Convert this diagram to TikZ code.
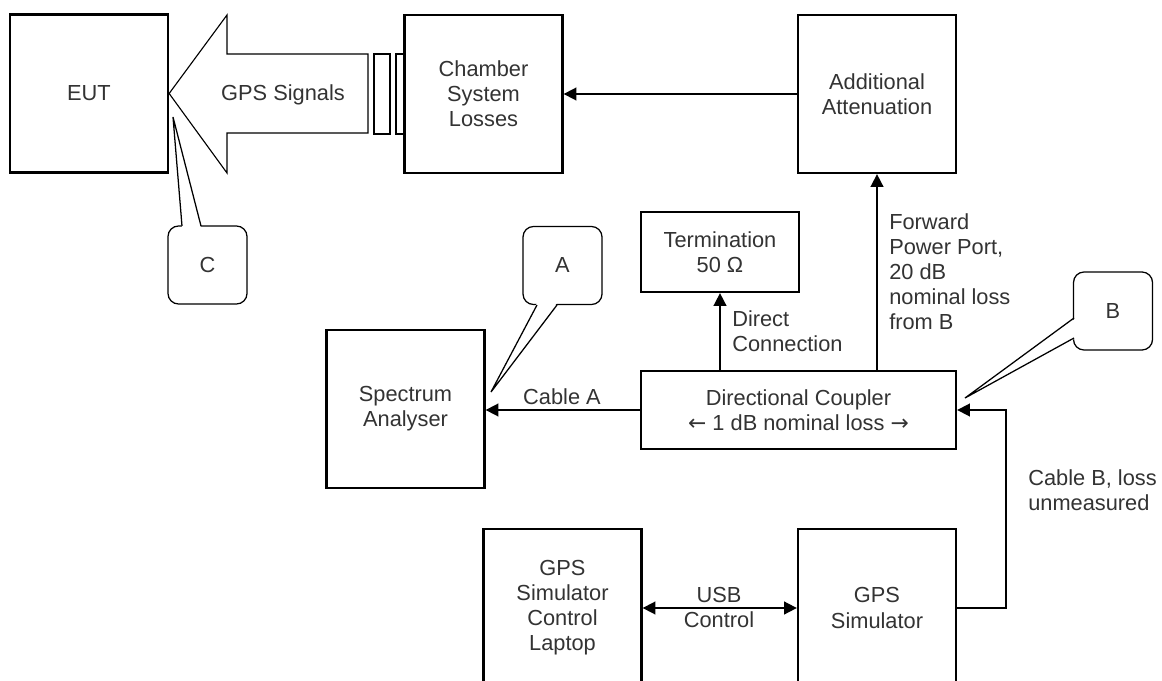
\documentclass[tikz,border=0pt]{standalone}
\usepackage{fontspec}
\setmainfont{Liberation Sans}
\newfontfamily\arrowfont{DejaVu Sans}
\usetikzlibrary{arrows.meta, positioning, calc}

\tikzset{
  block/.style={draw, line width=1.6pt, fill=white, align=center, inner sep=0pt},
  bigbox/.style={block, minimum width=3.95cm, minimum height=3.95cm},
  callout/.style={draw, line width=0.9pt, rounded corners=7.5pt, fill=white,
    minimum width=1.975cm, minimum height=1.95cm},
  arr/.style={line width=1.2pt, -{Triangle[length=9pt,width=9pt]}},
  lbl/.style={align=left, inner sep=0pt},
}

\begin{document}
\begin{tikzpicture}[x=0.025cm, y=-0.025cm, font=\fontsize{15.5}{17.8}\selectfont, text=black!80]
\clip (0,0) rectangle (1162,681);
\fill[white] (0,0) rectangle (1162,681);

% Top row
\node[bigbox] (eut) at (89,93.5) {EUT};
\node[bigbox] (chamber) at (483.5,94) {Chamber\\System\\Losses};
\node[bigbox] (atten) at (877,94) {Additional\\Attenuation};

% GPS signal arrow
\draw[line width=0.8pt, fill=white] (eut.east) -- (227,15) -- (227,54) -- (368,54)
  -- (368,133) -- (227,133) -- (227,173) -- cycle;
\node (signals) at (283,95) {GPS Signals};
\draw[line width=0.8pt] (374,54) rectangle (390,134);
\draw[line width=0.8pt] (396,54) rectangle (chamber.west |- 0,134);

\draw[arr] (atten) -- (chamber);

% Middle row
\node[block, minimum width=3.95cm, minimum height=2cm] (term) at (720,252) {Termination\\50 Ω};
\node[block, minimum width=7.875cm, minimum height=1.95cm] (coupler) at (798.5,410)
  {Directional Coupler\\{\arrowfont ←} 1 dB nominal loss {\arrowfont →}};
\node[bigbox] (spec) at (405.5,409) {Spectrum\\Analyser};

\draw[arr] (coupler.west) -- (coupler.west -| spec.east);
\node (cablea) at (562,397) {Cable A};
\draw[arr] (term.south |- coupler.north) -- (term.south);
\node[lbl, anchor=west] (direct) at (732,331) {Direct\\Connection};
\draw[arr] (atten.south |- coupler.north) -- (atten.south);
\node[lbl, anchor=west] (forward) at (889,272) {Forward\\Power Port,\\20 dB\\nominal loss\\from B};

% Bottom row
\node[bigbox] (laptop) at (562.5,608) {GPS\\Simulator\\Control\\Laptop};
\node[bigbox] (sim) at (877,608) {GPS\\Simulator};

\draw[line width=1.2pt, {Triangle[length=9pt,width=9pt]}-{Triangle[length=9pt,width=9pt]}]
  (laptop.east) -- (sim.west);
\node (usb) at (719,595) {USB};
\node (usbctl) at (719,620) {Control};

\coordinate (bend) at (1006,608);
\draw[arr] (sim.east) -- (bend) |- (coupler.east);
\node[lbl, anchor=west] (cableb) at (1028,490) {Cable B, loss\\unmeasured};

% Callouts
\node[callout] (callc) at (207.5,265) {C};
\node[callout] (calla) at (562.5,265.5) {A};
\node[callout] (callb) at (1113,311) {B};

\coordinate (tipc) at (173,117);
\coordinate (tipa) at (491,392);
\coordinate (tipb) at (965,398);

\fill[white] (182,228) -- (tipc) -- (201,228) -- cycle;
\draw[line width=0.9pt] (182,226) -- (tipc) -- (201,226);
\fill[white] (537,303) -- (tipa) -- (557,303) -- cycle;
\draw[line width=0.9pt] (537,305) -- (tipa) -- (557,305);
\fill[white] (1076,318) -- (tipb) -- (1076,338) -- cycle;
\draw[line width=0.9pt] (1074,318) -- (tipb) -- (1074,338);
\end{tikzpicture}
\end{document}
